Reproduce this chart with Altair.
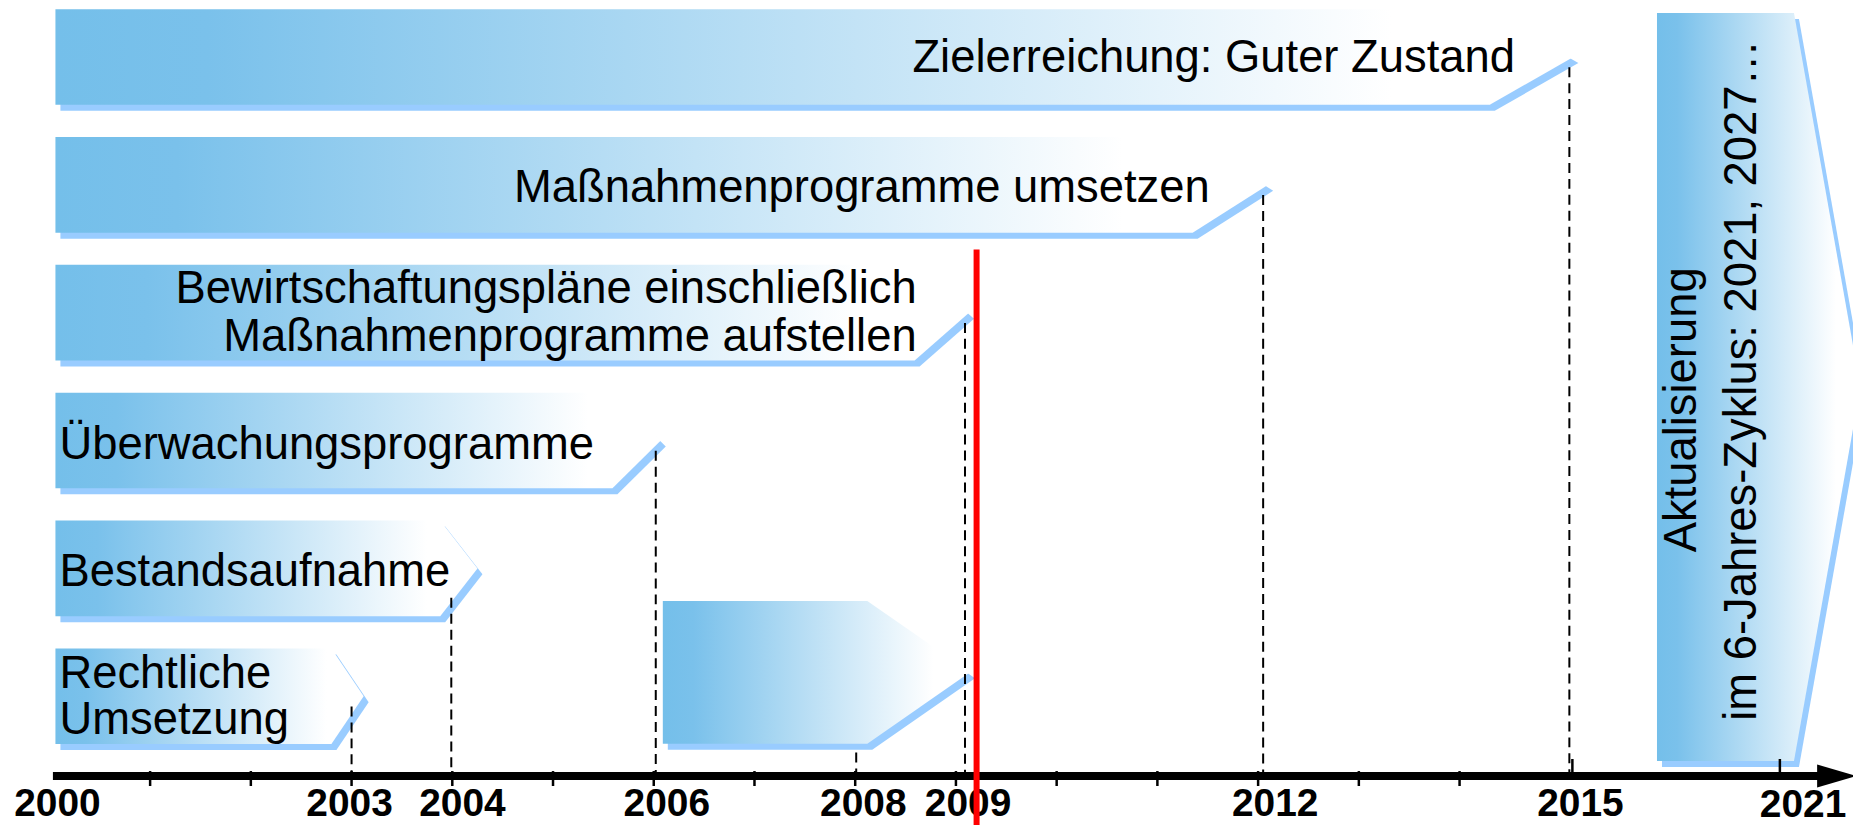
import altair as alt
import pandas as pd

# ---------------- data (timeline units: years after 2000; rows from top) ----------------
axis_years = ["2000", "2003", "2004", "2006", "2008", "2009", "2012", "2015", "2021"]
axis_label_pos = [0.08, 2.98, 4.10, 6.13, 8.08, 9.12, 12.17, 15.20, 17.41]
axis_label_row = [5.84, 5.84, 5.84, 5.84, 5.84, 5.84, 5.84, 5.84, 5.85]
minor_tick_pos = [1, 2, 3, 4, 5, 6, 7, 8, 9, 10, 11, 12, 13, 14]
major_tick_pos = [15.12, 17.18]

arrow_id = ["ziel", "umsetzen", "aufstellen", "ueberwachung", "bestand", "recht", "leer", "aktualisierung"]
arrow_start = [0.06, 0.06, 0.06, 0.06, 0.06, 0.06, 6.09, 15.96]
arrow_corner = [14.30, 11.35, 8.59, 5.59, 3.88, 2.80, 8.12, 17.32]
arrow_tip = [15.13, 12.10, 9.13, 6.07, 4.25, 3.12, 9.14, 17.98]
arrow_row = [0, 1, 2, 3, 4, 5, 4.813, 2.582]
arrow_half = [0.374, 0.374, 0.374, 0.374, 0.374, 0.374, 0.558, 2.925]

dash_pos = [15.09, 12.05, 9.09, 6.02, 3.99, 3.00, 8.01]
dash_from = [0.08, 1.08, 2.08, 3.08, 4.23, 5.08, 5.44]
axis_row = 5.624

red_pos = [9.205]
red_from = [1.505]

right_texts = ["Zielerreichung: Guter Zustand", "Maßnahmenprogramme umsetzen",
               "Bewirtschaftungspläne einschließlich", "Maßnahmenprogramme aufstellen"]
right_pos = [14.55, 11.52, 8.61, 8.61]
right_row = [0.008, 1.026, 1.818, 2.19]

left_texts = ["Überwachungsprogramme", "Bestandsaufnahme", "Rechtliche", "Umsetzung"]
left_pos = [0.10, 0.10, 0.10, 0.10]
left_row = [3.034, 4.025, 4.83, 5.19]

vert_texts = ["Aktualisierung", "im 6-Jahres-Zyklus: 2021, 2027…"]
vert_pos = [16.21, 16.80]
vert_row = [2.76, 2.53]

# ---------------- scales ----------------
W, H = 1850, 818
PX_PER_YEAR, PX_PER_ROW = 101.0, 128.2
xs = alt.Scale(domain=[-41.5 / PX_PER_YEAR, (W - 41.5) / PX_PER_YEAR], zero=False, nice=False)
ys = alt.Scale(domain=[-48 / PX_PER_ROW, (H - 48) / PX_PER_ROW], zero=False, nice=False, reverse=True)

SDX, SDY = 5 / PX_PER_YEAR, 6 / PX_PER_ROW

shape_rows = []
for i, name in enumerate(arrow_id):
    r, h = arrow_row[i], arrow_half[i]
    for x, t, b in [(arrow_start[i], r - h, r + h), (arrow_corner[i], r - h, r + h), (arrow_tip[i], r, r)]:
        shape_rows.append(dict(id=name, x=x, top=t, bot=b, sx=x + SDX, stop=t + SDY, sbot=b + SDY))
shapes = pd.DataFrame(shape_rows)

grad = alt.Gradient(
    gradient="linear",
    stops=[alt.GradientStop(color="#74bfea", offset=0),
           alt.GradientStop(color="#7ac1eb", offset=0.1),
           alt.GradientStop(color="#ffffff", offset=0.88),
           alt.GradientStop(color="#ffffff", offset=1)],
    x1=0, x2=1, y1=0, y2=0,
)

shadow = alt.Chart(shapes).mark_area(fill="#99ccff", clip=True).encode(
    x=alt.X("sx:Q", scale=xs, axis=None),
    y=alt.Y("stop:Q", scale=ys, axis=None, stack=None),
    y2="sbot:Q",
    detail="id:N",
)
body = alt.Chart(shapes).mark_area(fill=grad, clip=True).encode(
    x=alt.X("x:Q", scale=xs, axis=None),
    y=alt.Y("top:Q", scale=ys, axis=None, stack=None),
    y2="bot:Q",
    detail="id:N",
)

dash_df = pd.DataFrame({"x": dash_pos, "y": dash_from, "y2": [axis_row] * len(dash_pos)})
dashes = alt.Chart(dash_df).mark_rule(color="black", strokeWidth=2, strokeDash=[10, 6]).encode(
    x=alt.X("x:Q", scale=xs, axis=None), y=alt.Y("y:Q", scale=ys, axis=None), y2="y2:Q")

axis_df = pd.DataFrame({"x": [0.035], "x2": [17.59], "y": [axis_row]})
axis_line = alt.Chart(axis_df).mark_rule(color="black", strokeWidth=8, strokeCap="butt").encode(
    x=alt.X("x:Q", scale=xs, axis=None), x2="x2:Q", y=alt.Y("y:Q", scale=ys, axis=None))

head_df = pd.DataFrame({"x": [17.55, 17.94], "top": [axis_row - 0.0897, axis_row],
                        "bot": [axis_row + 0.0897, axis_row]})
head = alt.Chart(head_df).mark_area(color="black", clip=True).encode(
    x=alt.X("x:Q", scale=xs, axis=None), y=alt.Y("top:Q", scale=ys, axis=None, stack=None), y2="bot:Q")

minor_df = pd.DataFrame({"x": minor_tick_pos, "y": [5.585] * len(minor_tick_pos), "y2": [5.702] * len(minor_tick_pos)})
major_df = pd.DataFrame({"x": major_tick_pos, "y": [5.491] * len(major_tick_pos), "y2": [axis_row] * len(major_tick_pos)})
minor_ticks = alt.Chart(minor_df).mark_rule(color="black", strokeWidth=2.5).encode(
    x=alt.X("x:Q", scale=xs, axis=None), y=alt.Y("y:Q", scale=ys, axis=None), y2="y2:Q")
major_ticks = alt.Chart(major_df).mark_rule(color="black", strokeWidth=2.5).encode(
    x=alt.X("x:Q", scale=xs, axis=None), y=alt.Y("y:Q", scale=ys, axis=None), y2="y2:Q")

lab_df = pd.DataFrame({"t": axis_years, "x": axis_label_pos, "y": axis_label_row})
labels = alt.Chart(lab_df).mark_text(font="Liberation Sans", fontWeight="bold", fontSize=39,
                                     align="center", baseline="middle", color="black").encode(
    x=alt.X("x:Q", scale=xs, axis=None), y=alt.Y("y:Q", scale=ys, axis=None), text="t:N")

rt_df = pd.DataFrame({"t": right_texts, "x": right_pos, "y": right_row})
rtext = alt.Chart(rt_df).mark_text(font="Liberation Sans", fontSize=45.5, align="right",
                                   baseline="middle", color="black").encode(
    x=alt.X("x:Q", scale=xs, axis=None), y=alt.Y("y:Q", scale=ys, axis=None), text="t:N")

lt_df = pd.DataFrame({"t": left_texts, "x": left_pos, "y": left_row})
ltext = alt.Chart(lt_df).mark_text(font="Liberation Sans", fontSize=45.5, align="left",
                                   baseline="middle", color="black").encode(
    x=alt.X("x:Q", scale=xs, axis=None), y=alt.Y("y:Q", scale=ys, axis=None), text="t:N")

vt_df = pd.DataFrame({"t": vert_texts, "x": vert_pos, "y": vert_row})
vtext = alt.Chart(vt_df).mark_text(font="Liberation Sans", fontSize=45.5, align="center", angle=270,
                                   baseline="middle", color="black").encode(
    x=alt.X("x:Q", scale=xs, axis=None), y=alt.Y("y:Q", scale=ys, axis=None), text="t:N")

red_df = pd.DataFrame({"x": red_pos, "y": red_from, "y2": [(H - 48) / PX_PER_ROW]})
red = alt.Chart(red_df).mark_rule(color="#ff0000", strokeWidth=6).encode(
    x=alt.X("x:Q", scale=xs, axis=None), y=alt.Y("y:Q", scale=ys, axis=None), y2="y2:Q")

chart = alt.layer(
    shadow, body, dashes, minor_ticks, major_ticks, axis_line, head,
    labels, rtext, ltext, vtext, red,
).properties(
    width=W, height=H, padding=0, autosize=alt.AutoSizeParams(type="none"), background="white"
).configure_view(stroke=None)

chart.save("out.html", embed_options={"renderer": "svg", "actions": False})
